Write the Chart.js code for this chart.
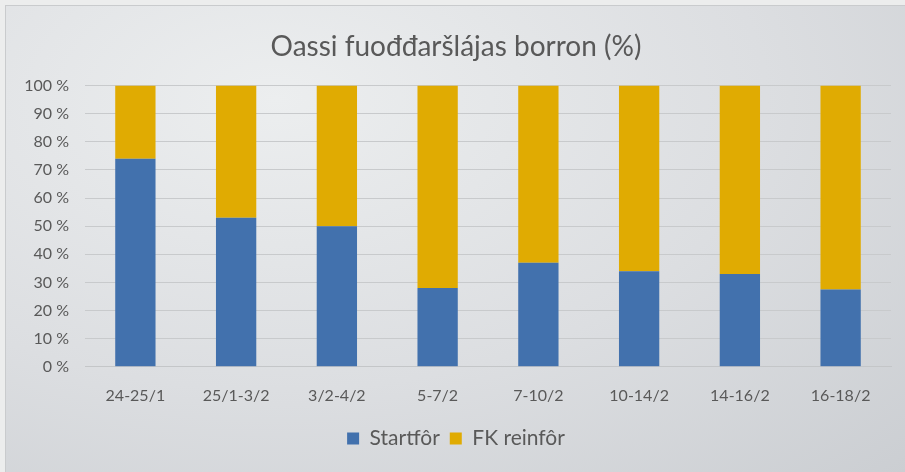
<!DOCTYPE html>
<html>
<head>
<meta charset="utf-8">
<script src="https://cdn.jsdelivr.net/npm/chart.js@4"></script>
<style>
  html, body { margin: 0; padding: 0; }
  body {
    width: 905px; height: 472px; overflow: hidden;
    background: #eceded;
  }
  #wrap {
    position: absolute; left: 5px; top: 5px; width: 900px; height: 467px;
    background: radial-gradient(ellipse at 30% 20%, #eceeef 0%, #dcdee1 55%, #cbced2 100%);
    border-left: 1px solid #c9cbcd; border-top: 1px solid #c9cbcd;
  }
  #chart { position: absolute; left: -5px; top: -5px; }
</style>
</head>
<body>
<div id="wrap"><canvas id="chart" width="905" height="472"></canvas></div>
<script>
// Periods (x axis)
const categories = ['24-25/1', '25/1-3/2', '3/2-4/2', '5-7/2', '7-10/2', '10-14/2', '14-16/2', '16-18/2'];
// Share per feed type, %
const startforValues = [74, 53, 50, 28, 37, 34, 33, 27.5];
const fkValues = [26, 47, 50, 72, 63, 66, 67, 72.5];
const yTicks = [0, 10, 20, 30, 40, 50, 60, 70, 80, 90, 100];

const FONT = 'Lato, "Open Sans", sans-serif';
const TXT = '#595959';

document.addEventListener('DOMContentLoaded', () => {
    const ctx = document.getElementById('chart').getContext('2d');

    new Chart(ctx, {
        type: 'bar',
        data: {
            labels: categories,
            datasets: [{
                label: 'Startfôr',
                data: startforValues,
                backgroundColor: '#4271ad'
            }, {
                label: 'FK reinfôr',
                data: fkValues,
                backgroundColor: '#e0ab02'
            }]
        },
        options: {
            responsive: false,
            animation: false,
            layout: { padding: { left: 20, right: 15, top: 29, bottom: 14 } },
            datasets: {
                bar: { barPercentage: 0.4, categoryPercentage: 1.0 }
            },
            plugins: {
                title: {
                    display: true,
                    text: 'Oassi fuođđaršlájas borron (%)',
                    color: TXT,
                    font: { family: FONT, size: 28, weight: 'normal' },
                    padding: { top: 0, bottom: 22 }
                },
                legend: {
                    position: 'bottom',
                    labels: {
                        color: TXT,
                        font: { family: FONT, size: 21 },
                        boxWidth: 12, boxHeight: 12,
                        padding: 10
                    }
                },
                tooltip: { enabled: false }
            },
            scales: {
                x: {
                    stacked: true,
                    grid: { display: false },
                    border: { display: true, color: '#c4c6c8' },
                    afterFit: (axis) => { axis.height += 2; },
                    ticks: { color: TXT, font: { family: FONT, size: 16 }, maxRotation: 0, padding: 11 }
                },
                y: {
                    stacked: true,
                    min: 0, max: 100,
                    afterBuildTicks: (axis) => { axis.ticks = yTicks.map(v => ({ value: v })); },
                    afterFit: (axis) => { axis.width = 64; },
                    grid: { color: '#c8cacc', drawTicks: false },
                    border: { display: false },
                    ticks: {
                        color: TXT,
                        font: { family: FONT, size: 16 },
                        padding: 16,
                        callback: (v) => v + ' %'
                    }
                }
            }
        }
    });
});
</script>
</body>
</html>
